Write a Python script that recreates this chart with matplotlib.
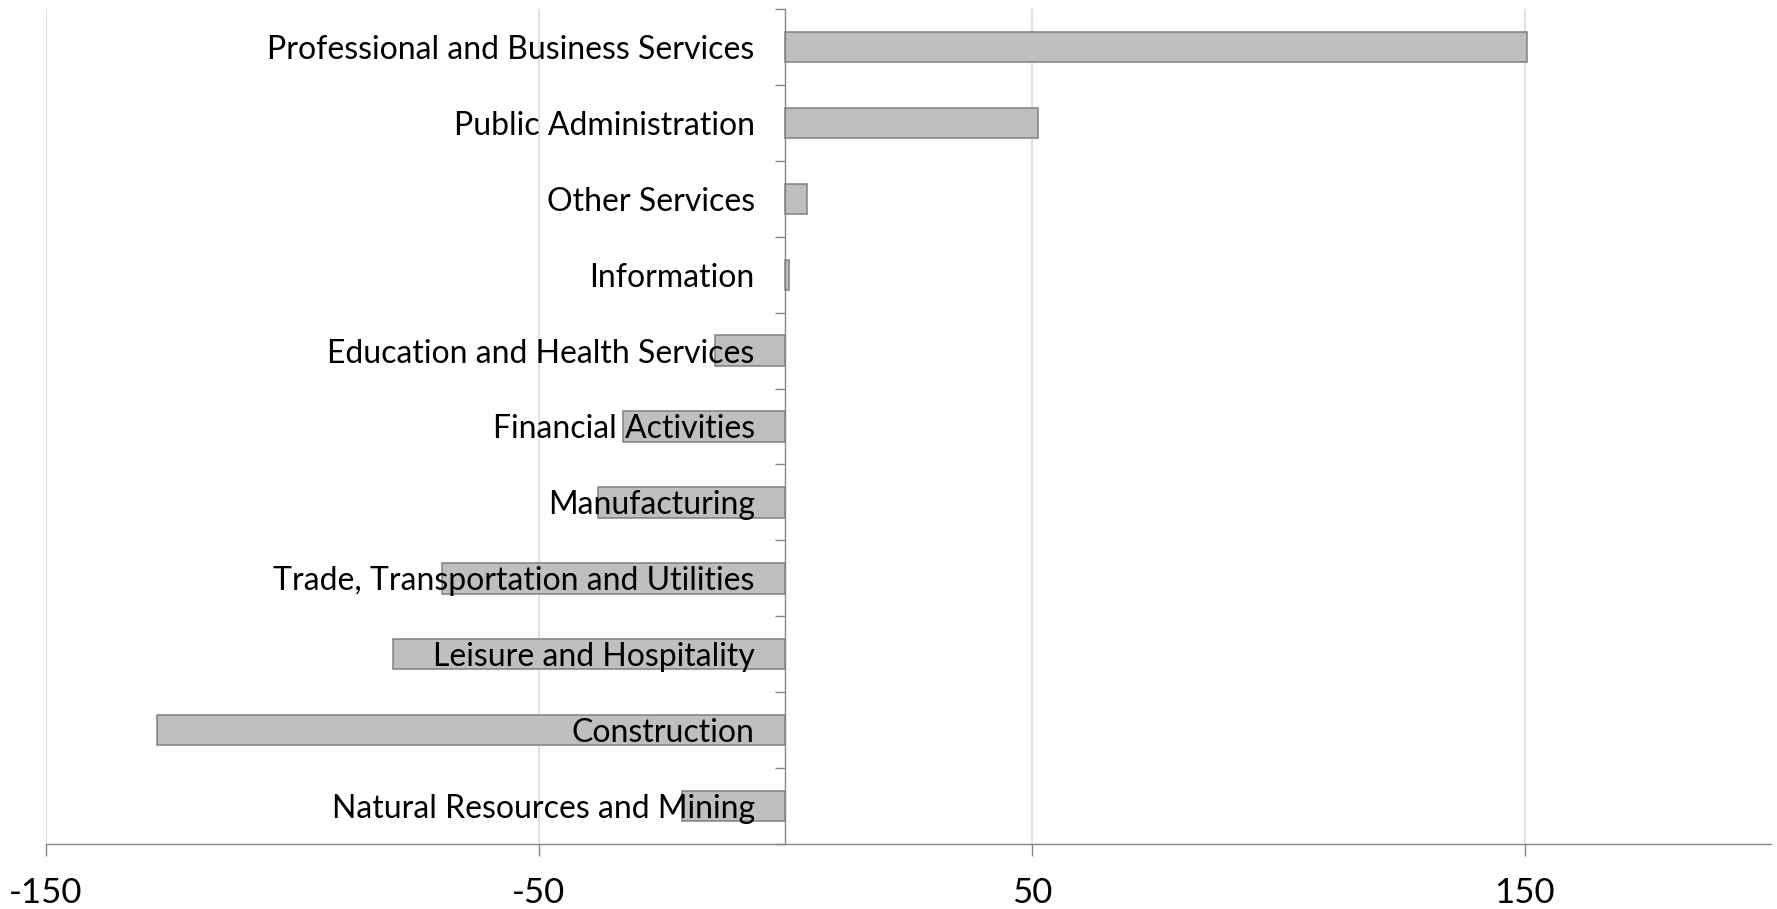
import matplotlib
matplotlib.use("Agg")
import matplotlib.pyplot as plt
import numpy as np

# employment change by sector (bottom to top)
sectors = ["Natural Resources and Mining", "Construction", "Leisure and Hospitality",
           "Trade, Transportation and Utilities", "Manufacturing", "Financial Activities",
           "Education and Health Services", "Information", "Other Services",
           "Public Administration", "Professional and Business Services"]
change = [-21.0, -127.5, -79.6, -69.7, -37.9, -33.0, -14.2, 0.8, 4.5, 51.2, 150.5]
xticks = [-150, -50, 50, 150]

AXIS = "#868686"
plt.rcParams["font.family"] = ["Lato", "DejaVu Sans"]

W, H = 1777, 909
fig = plt.figure(figsize=(W / 100, H / 100), dpi=100)
ax = fig.add_axes([46 / W, 1 - 844 / H, (1771 - 46) / W, (844 - 9) / H])

y = np.arange(len(sectors))
ax.barh(y, change, height=0.4, color="#bfbfbf", edgecolor="#808080", lw=1.1, zorder=1)

ax.set_xlim(-150, 200)
ax.set_ylim(-0.5, len(sectors) - 0.5)
ax.set_xticks(xticks)
ax.set_xticklabels([str(t) for t in xticks], fontsize=25)
ax.tick_params(axis="x", length=8.5, width=1, color=AXIS, pad=15)
ax.grid(axis="x", color="#d9d9d9", lw=1.1)
ax.set_axisbelow(True)

# category axis sits at zero, labels drawn over the bars
ax.spines["left"].set_position(("data", 0))
ax.set_yticks(y)
ax.set_yticklabels(sectors, fontsize=23)
ax.set_yticks(np.arange(len(sectors) + 1) - 0.5, minor=True)
ax.tick_params(axis="y", which="major", length=0, pad=22)
ax.tick_params(axis="y", which="minor", length=7.2, width=1, color=AXIS)
ax.yaxis.set_zorder(3)

for s in ["top", "right"]:
    ax.spines[s].set_visible(False)
for s in ["left", "bottom"]:
    ax.spines[s].set_color(AXIS)
    ax.spines[s].set_linewidth(1)

fig.savefig("out.png", dpi=100)
